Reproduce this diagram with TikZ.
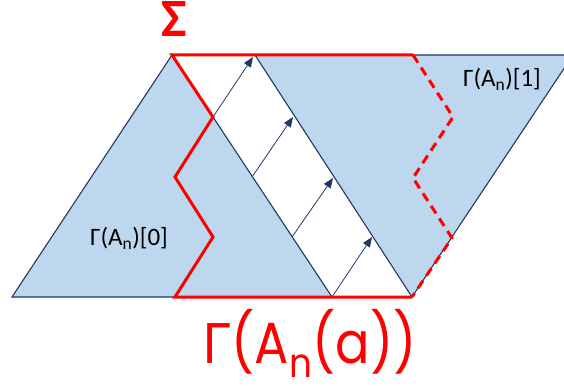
\documentclass[tikz,border=0pt]{standalone}
\usepackage{fontspec}
\setmainfont{Carlito}
\newfontfamily\popfont{Poppins}
\newfontfamily\gkfont{Liberation Sans}
\usetikzlibrary{arrows.meta}
\definecolor{fillblue}{HTML}{BDD7EE}
\definecolor{navy}{HTML}{203864}
\definecolor{sigred}{HTML}{FF0000}
\begin{document}
\begin{tikzpicture}[x=1pt,y=-1pt,
  edge/.style={draw=navy,line width=1.1pt,line join=miter},
  redline/.style={draw=sigred,line width=3pt,line join=miter},
  reddash/.style={draw=sigred,line width=3pt,dash pattern=on 9pt off 6pt},
  flow/.style={draw=navy,line width=0.8pt,-{Triangle[length=10pt,width=8pt]}},
  lab/.style={font=\fontsize{25}{29}\selectfont,text=black,inner sep=0pt}]
\useasboundingbox (0,0) rectangle (564,385);
\clip (0,0) rectangle (564,385);
% triangle vertices
\coordinate (L1) at (12,297);
\coordinate (L2) at (172,55);
\coordinate (L3) at (332,297);
\coordinate (R1) at (255,55);
\coordinate (R2) at (573,55);
\coordinate (R3) at (412,297);
% red boundary points
\coordinate (T)  at (413,55);
\coordinate (Z1) at (213,117);
\coordinate (Z2) at (175,177);
\coordinate (Z3) at (213,237);
\coordinate (Z4) at (175,297);
\coordinate (D1) at (453,117);
\coordinate (D2) at (413,178);
\coordinate (D3) at (452,238);
% arrow points
\coordinate (P1) at (213,117);
\coordinate (P2) at (252,177);
\coordinate (P3) at (292,237);
\coordinate (P4) at (332,297);
\coordinate (Q1) at (253,57);
\coordinate (Q2) at (293,117);
\coordinate (Q3) at (333,178);
\coordinate (Q4) at (372,237);
% shapes
\fill[fillblue] (L1) -- (L2) -- (L3) -- cycle;
\fill[fillblue] (R1) -- (R2) -- (R3) -- cycle;
\draw[edge] (L1) -- (L2) -- (L3) -- cycle;
\draw[edge] (R1) -- (R2) -- (R3) -- cycle;
% arrows
\draw[flow] (P1) -- (Q1);
\draw[flow] (P2) -- (Q2);
\draw[flow] (P3) -- (Q3);
\draw[flow] (P4) -- (Q4);
% red boundary
\draw[redline] (T) -- (L2) -- (Z1) -- (Z2) -- (Z3) -- (Z4) -- (R3);
\draw[reddash] (T) -- (D1) -- (D2) -- (D3) -- (R3);
% labels
\node[lab] (lab0) at (129,238) {Γ(A\textsubscript{n})[0]};
\node[lab] (lab1) at (502,79) {Γ(A\textsubscript{n})[1]};
\node[text=sigred,inner sep=0pt,font=\bfseries\fontsize{54}{58}\selectfont] (sigma) at (174,19) {Σ};
\node[text=sigred,inner sep=0pt,anchor=base,xscale=0.88,font=\fontsize{58}{64}\selectfont] (gam) at (310,363) {{\gkfont Γ}{\popfont (A\textsubscript{n}(a))}};
\end{tikzpicture}
\end{document}
